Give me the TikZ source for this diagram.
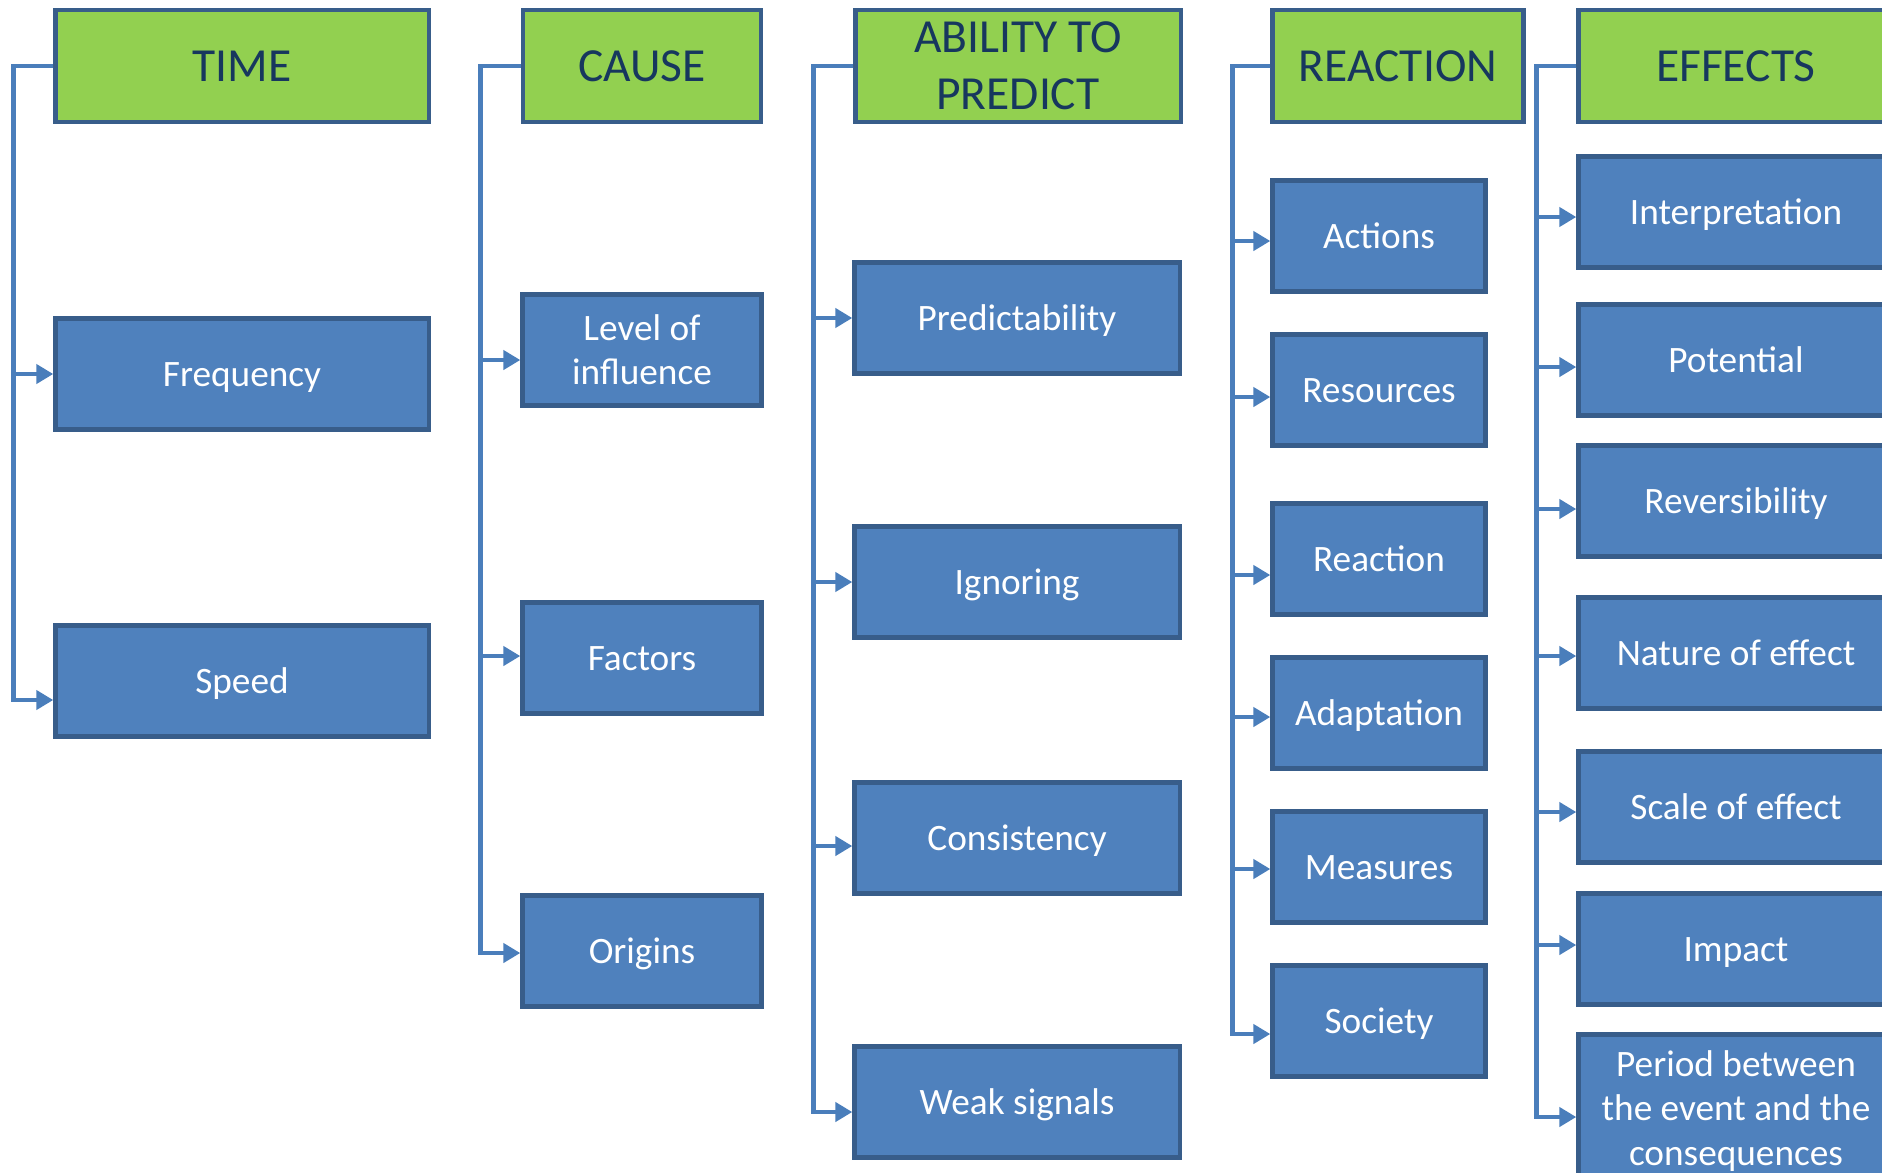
\documentclass[tikz,border=0pt]{standalone}
\usepackage{fontspec}
\setmainfont{Carlito}
\usetikzlibrary{arrows.meta,calc}
\definecolor{headgreen}{HTML}{92D050}
\definecolor{boxblue}{HTML}{4F81BD}
\definecolor{edgeblue}{HTML}{385D8A}
\definecolor{linkblue}{HTML}{4A7EBB}
\definecolor{headtext}{HTML}{17375E}
\tikzset{link/.style={draw=linkblue,line width=1.4pt,-{Triangle[length=0.17cm,width=0.19cm]}}}

\begin{document}
\begin{tikzpicture}[x=0.01cm,y=-0.01cm]
    \useasboundingbox (0,0) rectangle (1882,1172);
    \clip (0,0) rectangle (1882,1172);

    \begin{scope}[every node/.style={rectangle,draw=edgeblue,line width=1.2pt,fill=headgreen,text=headtext,
                  align=center,minimum height=1.12cm,text height=12.2pt,text depth=3.4pt,
                  font=\fontsize{13.5}{16.3}\selectfont}]
        \node[minimum width=3.73cm] (time) at (242,66) {TIME};
        \node[minimum width=2.38cm] (cause) at (642,66) {CAUSE};
        \node[minimum width=3.25cm,text height={},text depth={}] (predict) at (1018,66) {ABILITY TO\\PREDICT};
        \node[minimum width=2.51cm] (reaction) at (1398,66) {REACTION};
        \node[minimum width=3.15cm] (effects) at (1736,66) {EFFECTS};
    \end{scope}

    \begin{scope}[every node/.style={rectangle,draw=edgeblue,line width=1.2pt,fill=boxblue,text=white,
                  align=center,minimum height=1.11cm,text height=9.5pt,text depth=2.6pt,
                  font=\fontsize{10.6}{12.6}\selectfont}]
        \node[minimum width=3.73cm] (frequency) at (242,374) {Frequency};
        \node[minimum width=3.73cm] (speed) at (242,681) {Speed};

        \node[minimum width=2.39cm,text height={},text depth={}] (influence) at (642,350) {Level of\\influence};
        \node[minimum width=2.39cm] (factors) at (642,658) {Factors};
        \node[minimum width=2.39cm] (origins) at (642,951) {Origins};

        \node[minimum width=3.25cm] (predictability) at (1017,318) {Predictability};
        \node[minimum width=3.25cm] (ignoring) at (1017,582) {Ignoring};
        \node[minimum width=3.25cm] (consistency) at (1017,838) {Consistency};
        \node[minimum width=3.25cm] (weak) at (1017,1102) {Weak signals};

        \node[minimum width=2.13cm] (actions) at (1379,236) {Actions};
        \node[minimum width=2.13cm] (resources) at (1379,390) {Resources};
        \node[minimum width=2.13cm] (reactionbox) at (1379,559) {Reaction};
        \node[minimum width=2.13cm] (adaptation) at (1379,713) {Adaptation};
        \node[minimum width=2.13cm] (measures) at (1379,867) {Measures};
        \node[minimum width=2.13cm] (society) at (1379,1021) {Society};

        \node[minimum width=3.15cm] (interpretation) at (1736,212) {Interpretation};
        \node[minimum width=3.15cm] (potential) at (1736,360) {Potential};
        \node[minimum width=3.15cm] (reversibility) at (1736,501) {Reversibility};
        \node[minimum width=3.15cm] (nature) at (1736,653) {Nature of effect};
        \node[minimum width=3.15cm] (scale) at (1736,807) {Scale of effect};
        \node[minimum width=3.15cm] (impact) at (1736,949) {Impact};
        \node[minimum width=3.15cm,minimum height=1.53cm,text height={},text depth={}] (period) at (1736,1111) {Period between\\the event and the\\consequences};
    \end{scope}

    \foreach \kid/\dy in {frequency/0,speed/19}
        \draw[link] (time.west) -- ++(-40,0) |- ($(\kid.west)+(0,\dy)$);
    \foreach \kid/\dy in {influence/10,factors/-2,origins/2}
        \draw[link] (cause.west) -- ++(-40,0) |- ($(\kid.west)+(0,\dy)$);
    \foreach \kid/\dy in {predictability/0,ignoring/0,consistency/8,weak/10}
        \draw[link] (predict.west) -- ++(-40,0) |- ($(\kid.west)+(0,\dy)$);
    \foreach \kid/\dy in {actions/5,resources/7,reactionbox/16,adaptation/4,measures/2,society/13}
        \draw[link] (reaction.west) -- ++(-38,0) |- ($(\kid.west)+(0,\dy)$);
    \foreach \kid/\dy in {interpretation/5,potential/7,reversibility/8,nature/3,scale/5,impact/-4,period/6}
        \draw[link] (effects.west) -- ++(-40,0) |- ($(\kid.west)+(0,\dy)$);
\end{tikzpicture}
\end{document}
